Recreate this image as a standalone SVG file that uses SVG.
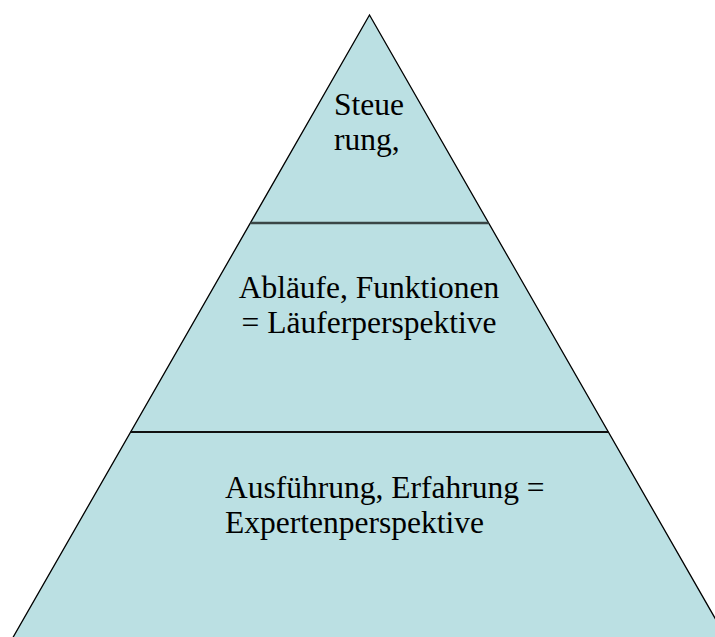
<svg xmlns="http://www.w3.org/2000/svg" width="715" height="637" viewBox="0 0 715 637">
<style>
.t{font-family:"Liberation Serif","Times New Roman",serif;font-size:31.5px;fill:#000}
</style>
<rect width="715" height="637" fill="#fff"/>
<g id="pyramid">
<polygon points="369.5,15 727.5,640 11.5,640" fill="#BBE0E3" stroke="#000" stroke-width="1.3"/>
</g>
<g id="connectors">
<line x1="250.5" y1="223" x2="488.5" y2="223" stroke="#3a4646" stroke-width="2.5"/>
<line x1="130.5" y1="432" x2="608.5" y2="432" stroke="#111" stroke-width="2"/>
</g>
<g id="top">
<text class="t" x="334" y="115">Steue</text>
<text class="t" x="334" y="150">rung,</text>
</g>
<g id="middle">
<text class="t" x="369" y="298" text-anchor="middle">Abläufe, Funktionen</text>
<text class="t" x="369" y="333" text-anchor="middle">= Läuferperspektive</text>
</g>
<g id="bottom">
<text class="t" x="225" y="498">Ausführung, Erfahrung =</text>
<text class="t" x="225" y="533">Expertenperspektive</text>
</g>
</svg>
